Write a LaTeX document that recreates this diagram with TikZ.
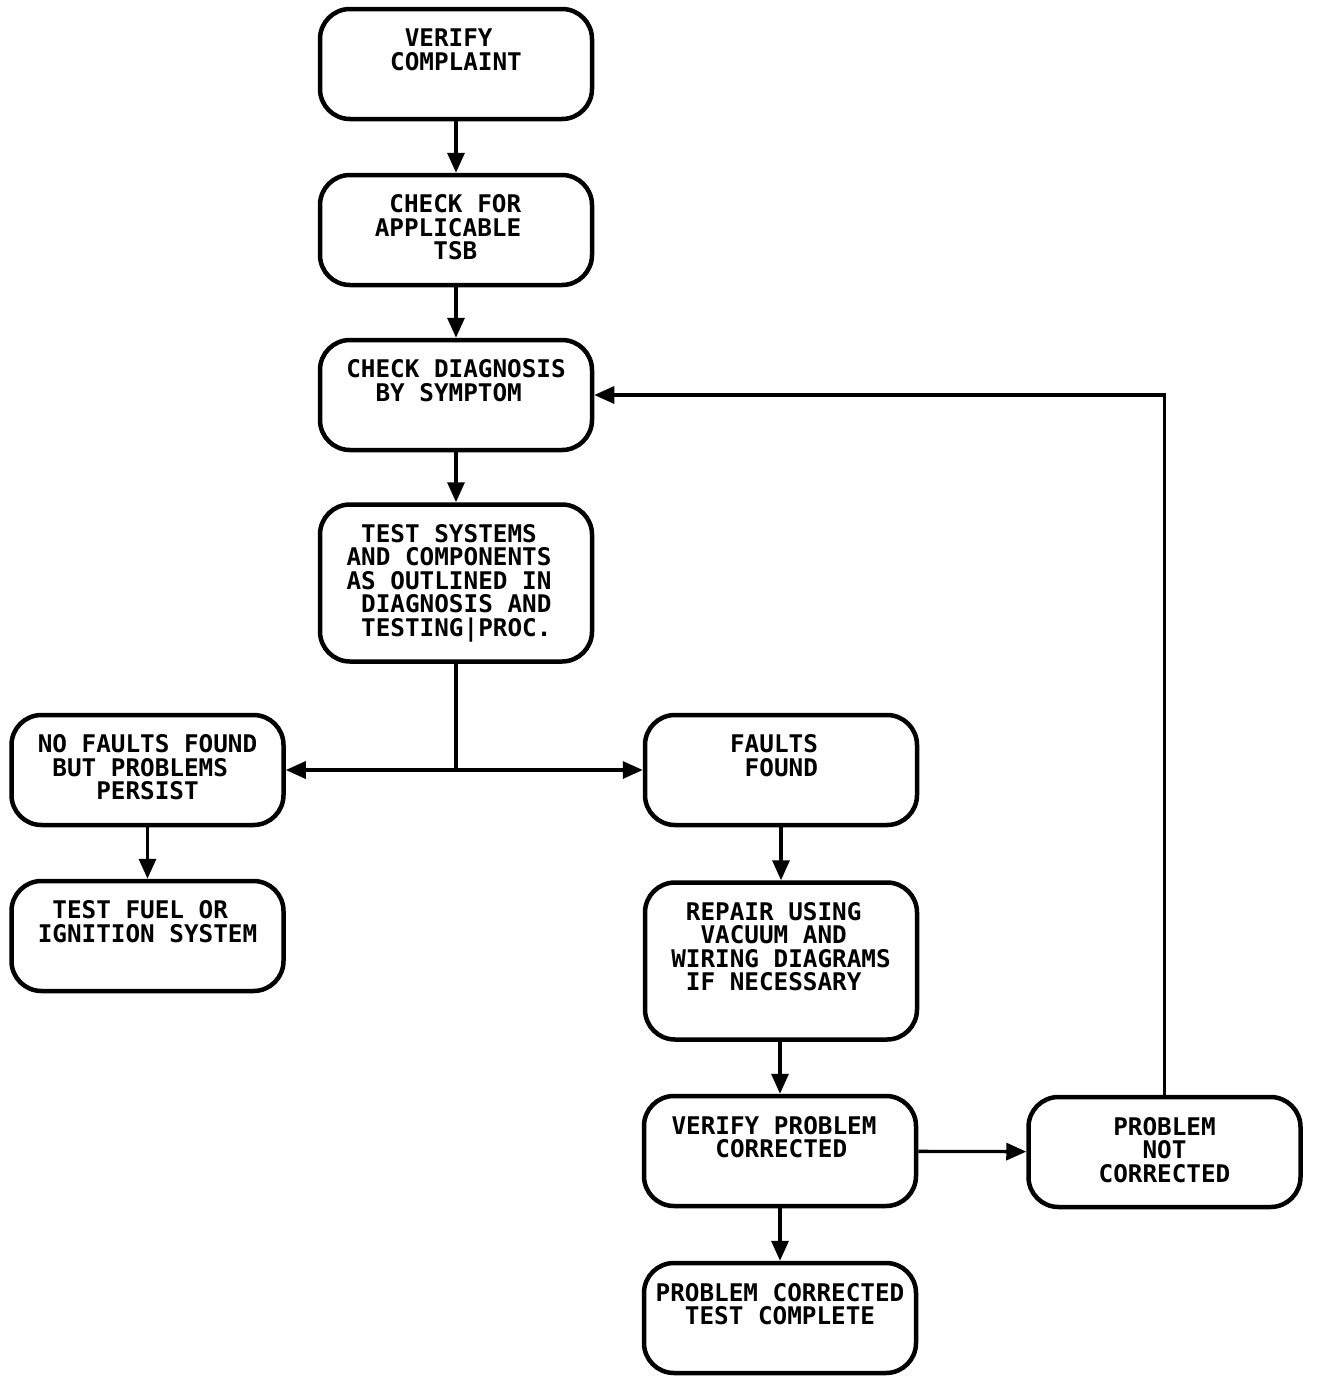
\documentclass[tikz,border=0pt]{standalone}
\usepackage{fontspec}
\newfontfamily\flowfont{DejaVu Sans Mono}
\usetikzlibrary{arrows.meta}
\tikzset{
	box/.style={draw, line width=4.5pt, rounded corners=30pt, minimum width=272pt, minimum height=110pt, inner sep=0pt},
	tallbox/.style={box, minimum height=157pt},
	boxtext/.style={anchor=north, align=left, inner sep=0pt, font=\flowfont\bfseries\fontsize{24.3}{23.5}\selectfont},
	flow/.style={line width=3.3pt},
	arr/.style={flow, -{Triangle[length=20pt,width=17pt]}},
}
\begin{document}
\begin{tikzpicture}[x=1pt, y=-1pt]
	\useasboundingbox (0,0) rectangle (1328,1384);
		\node (verify)[box] at (456, 64) {} ; 
		\node (verify-t)[boxtext] at ([yshift=-22pt]verify.north) {\hphantom{X}VERIFY\\COMPLAINT} ; 
		\node (tsb)[box] at (456, 230) {} ; 
		\node (tsb-t)[boxtext] at ([xshift=-8pt, yshift=-22pt]tsb.north) {\hphantom{X}CHECK FOR\\APPLICABLE\\\hphantom{XXXX}TSB} ; 
		\node (diag)[box] at (456, 395) {} ; 
		\node (diag-t)[boxtext] at ([yshift=-22pt]diag.north) {CHECK DIAGNOSIS\\\hphantom{XX}BY SYMPTOM} ; 
		\node (test)[tallbox] at (456, 583) {} ; 
		\node (test-t)[boxtext] at ([xshift=-7pt, yshift=-22pt]test.north) {\hphantom{X}TEST SYSTEMS\\AND COMPONENTS\\AS OUTLINED IN\\\hphantom{X}DIAGNOSIS AND\\\hphantom{X}TESTING|PROC.} ; 
		\node (nofault)[box] at (147.5, 770) {} ; 
		\node (nofault-t)[boxtext] at ([yshift=-22pt]nofault.north) {NO FAULTS FOUND\\\hphantom{X}BUT PROBLEMS\\\hphantom{XXXX}PERSIST} ; 
		\node (fuel)[box] at (147.5, 936) {} ; 
		\node (fuel-t)[boxtext] at ([yshift=-22pt]fuel.north) {\hphantom{X}TEST FUEL OR\\IGNITION SYSTEM} ; 
		\node (faults)[box] at (781, 770) {} ; 
		\node (faults-t)[boxtext] at ([xshift=-7pt, yshift=-22pt]faults.north) {FAULTS\\\hphantom{X}FOUND} ; 
		\node (repair)[tallbox] at (781, 961) {} ; 
		\node (repair-t)[boxtext] at ([yshift=-22pt]repair.north) {\hphantom{X}REPAIR USING\\\hphantom{XX}VACUUM AND\\WIRING DIAGRAMS\\\hphantom{X}IF NECESSARY} ; 
		\node (check)[box] at (780, 1151) {} ; 
		\node (check-t)[boxtext] at ([xshift=-6pt, yshift=-22pt]check.north) {VERIFY PROBLEM\\\hphantom{XXX}CORRECTED} ; 
		\node (notfixed)[box] at (1164.5, 1152) {} ; 
		\node (notfixed-t)[boxtext] at ([yshift=-22pt]notfixed.north) {\hphantom{X}PROBLEM\\\hphantom{XXX}NOT\\CORRECTED} ; 
		\node (done)[box] at (780, 1318) {} ; 
		\node (done-t)[boxtext] at ([yshift=-22pt]done.north) {PROBLEM CORRECTED\\\hphantom{XX}TEST COMPLETE} ; 
		\coordinate (split) at (test.south |- nofault.east) ; 
		\coordinate (back) at (notfixed.north |- diag.east) ; 
	\draw[arr] (verify) -- (tsb) ;
	\draw[arr] (tsb) -- (diag) ;
	\draw[arr] (diag) -- (test) ;
	\draw[flow] (test) -- (split) ;
	\draw[arr] (split) -- (nofault) ;
	\draw[arr] (split) -- (faults) ;
	\draw[arr] (nofault) -- (fuel) ;
	\draw[arr] (faults) -- (repair) ;
	\draw[arr] (repair.south -| check.north) -- (check) ;
	\draw[arr] (check) -- (notfixed) ;
	\draw[arr] (check) -- (done) ;
	\draw[arr] (notfixed) -- (back) -- (diag.east) ;
\end{tikzpicture}
\end{document}
